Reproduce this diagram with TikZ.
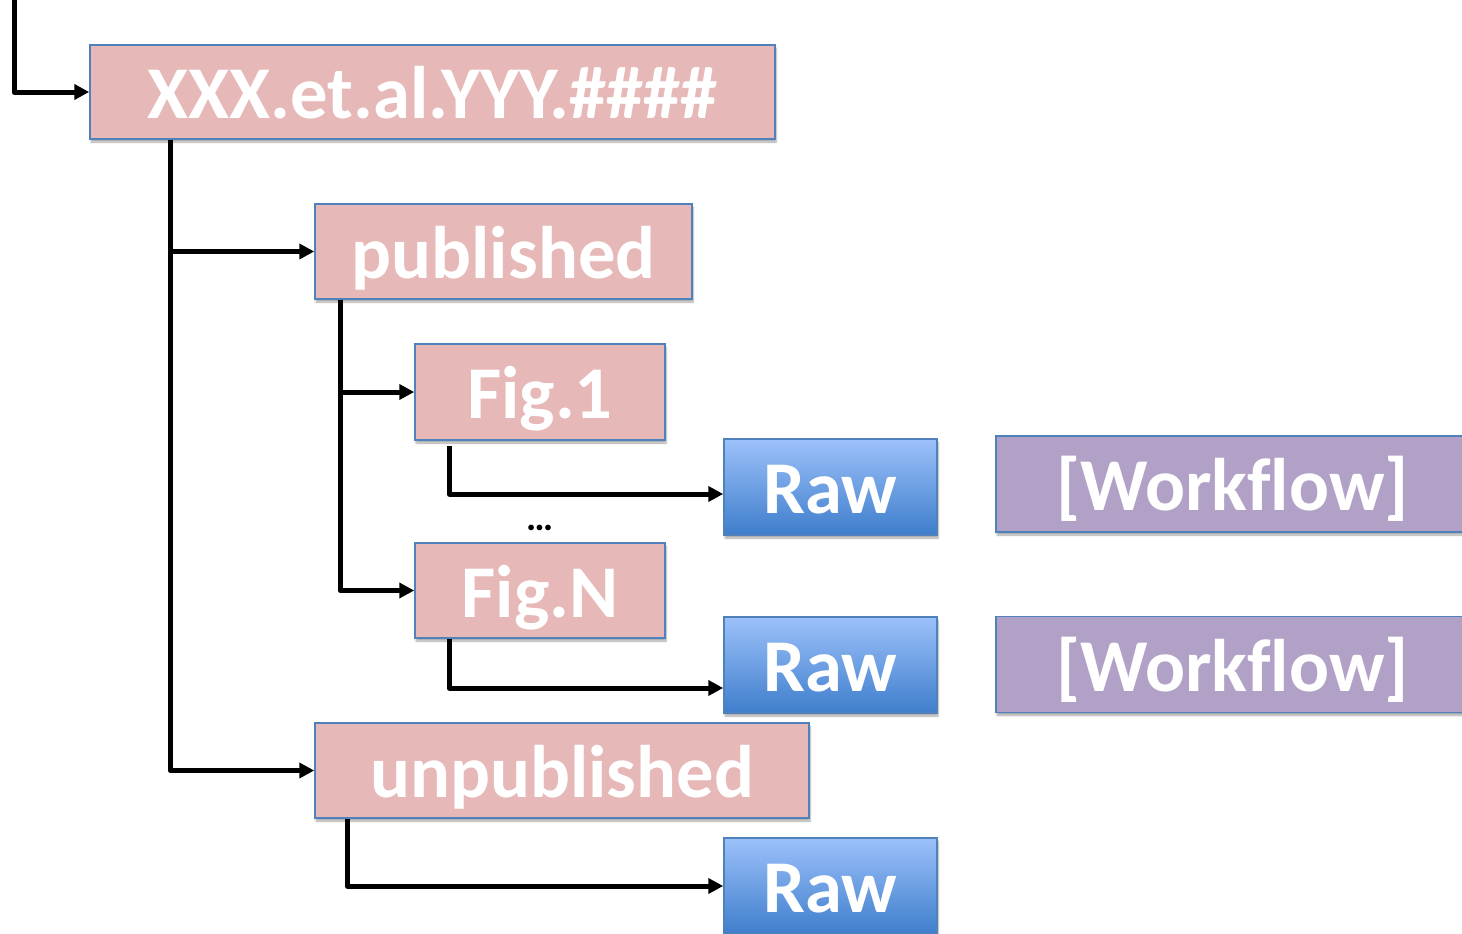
\documentclass[tikz,border=0pt]{standalone}
\usepackage{fontspec}
\setmainfont{Carlito}[Ligatures=NoCommon]
\usetikzlibrary{arrows.meta,shadows.blur,calc}
\definecolor{folderfill}{HTML}{E6B8B7}
\definecolor{boxline}{HTML}{4F81BD}
\definecolor{rawtop}{HTML}{9CC1FA}
\definecolor{rawbottom}{HTML}{3F7ECC}
\definecolor{wffill}{HTML}{B2A1C7}
\tikzset{
  boxbase/.style={rectangle, draw=boxline, line width=1.5pt, inner sep=0pt,
    text=white, font=\fontsize{74.5}{80}\selectfont\bfseries,
    text height=53pt, text depth=0pt,
    blur shadow={shadow xshift=1pt, shadow yshift=-3pt, shadow blur steps=6, shadow opacity=35}},
  folder/.style={boxbase, fill=folderfill},
  rawbox/.style={boxbase, top color=rawtop, bottom color=rawbottom,
    minimum width=213pt, minimum height=96pt},
  wfbox/.style={boxbase, fill=wffill, minimum width=473pt, minimum height=96pt},
  arr/.style={line width=5pt, line join=round, -{Triangle[length=15pt,width=15pt]}},
}
\begin{document}
\begin{tikzpicture}[x=1pt,y=-1pt]
\useasboundingbox (0,0) rectangle (1462,934);

% folders
\node[folder, minimum width=685pt, minimum height=94pt] (root) at (432.5,92) {XXX.et.al.YYY.\#\#\#\#};
\node[folder, minimum width=377pt, minimum height=95pt] (pub) at (503.5,251.5) {published};
\node[folder, minimum width=250pt, minimum height=96pt] (fig1) at (540,392) {Fig.1};
\node[folder, minimum width=250pt, minimum height=95pt] (figN) at (540,590.5) {Fig.N};
\node[folder, minimum width=494pt, minimum height=95pt] (unpub) at (562,770.5) {unpublished};

% raw data and workflows
\node[rawbox] (raw1) at (830.5,487) {Raw};
\node[rawbox] (raw2) at (830.5,665) {Raw};
\node[rawbox] (raw3) at (830.5,886) {Raw};
\node[wfbox] (wf1) at (1232.5,484) {[Workflow]};
\node[wfbox] (wf2) at (1232.5,664.5) {[Workflow]};

\node[font=\fontsize{38}{42}\selectfont\bfseries] (dots) at (540,528) {…};

% connectors
\coordinate (top) at (14,-5);
\draw[arr] (top) |- (root.west);
\draw[arr] ($(root.south west)+(81,0)$) |- (unpub.west);
\draw[arr] ($(root.south west)+(81,0)$) |- (pub.west);
\draw[arr] ($(pub.south west)+(26,0)$) |- (figN.west);
\draw[arr] ($(pub.south west)+(26,0)$) |- (fig1.west);
\draw[arr] ($(fig1.south west)+(35,5)$) |- ([yshift=-7pt]raw1.west);
\draw[arr] ($(figN.south west)+(35,0)$) |- ([yshift=-23pt]raw2.west);
\draw[arr] ($(unpub.south west)+(33,0)$) |- (raw3.west);
\end{tikzpicture}
\end{document}
